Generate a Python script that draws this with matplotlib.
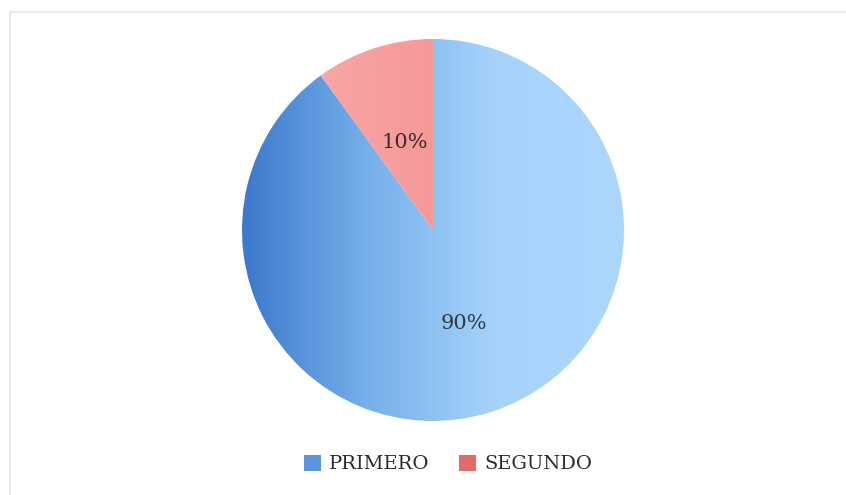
import numpy as np
import matplotlib
matplotlib.use("Agg")
from matplotlib import pyplot as plt
from matplotlib.colors import LinearSegmentedColormap
from matplotlib.patches import Rectangle, Patch

# Data
labels = ["PRIMERO", "SEGUNDO"]
values = [90, 10]
pct_labels = ["90%", "10%"]

# gradient colours (left -> right) for each slice
grad_colors = [["#3c78cc", "#78b0ea", "#a6d3fb", "#acd7fd"],
               ["#fab0b0", "#f59898", "#ee8585"]]
legend_colors = ["#5b95dc", "#e46a6a"]

fig = plt.figure(figsize=(8.46, 4.95), dpi=100)
fig.patch.set_facecolor("white")

# light chart frame
fig.patches.append(Rectangle((10 / 846, -0.01), 1.0, 1 - 12 / 495 + 0.01,
                             transform=fig.transFigure, fill=False,
                             edgecolor="#dde6f0", linewidth=1.2))

# pie axes
r = 191
cx, cy = 433, 230
ax = fig.add_axes([(cx - r) / 846, 1 - (cy + r) / 495, 2 * r / 846, 2 * r / 495])
wedges, _ = ax.pie(values, startangle=90, counterclock=False, radius=1,
                   colors=["none", "none"], wedgeprops=dict(linewidth=0))
ax.set_xlim(-1, 1)
ax.set_ylim(-1, 1)
ax.set_aspect("equal")
ax.axis("off")

grad = np.tile(np.linspace(0, 1, 256), (2, 1))
for w, cols in zip(wedges, grad_colors):
    cmap = LinearSegmentedColormap.from_list("g", cols)
    im = ax.imshow(grad, extent=[-1, 1, -1, 1], cmap=cmap, aspect="auto",
                   interpolation="bicubic", zorder=1)
    im.set_clip_path(w)

# percentage labels
ax.text(0.16, -0.49, pct_labels[0], ha="center", va="center",
        fontsize=15, color="#333a44", family="DejaVu Serif", zorder=3)
ax.text(-0.15, 0.46, pct_labels[1], ha="center", va="center",
        fontsize=15, color="#3a2a2a", family="DejaVu Serif", zorder=3)

handles = [Patch(facecolor=c, edgecolor="none") for c in legend_colors]
fig.legend(handles, labels, loc="center", bbox_to_anchor=(448 / 846, 1 - 464 / 495),
           ncol=2, frameon=False, handlelength=0.9, handleheight=0.9,
           handletextpad=0.4, columnspacing=1.5, labelcolor="#2b2b2b",
           prop=dict(family="DejaVu Serif", size=14))

fig.savefig("out.png", dpi=100)
